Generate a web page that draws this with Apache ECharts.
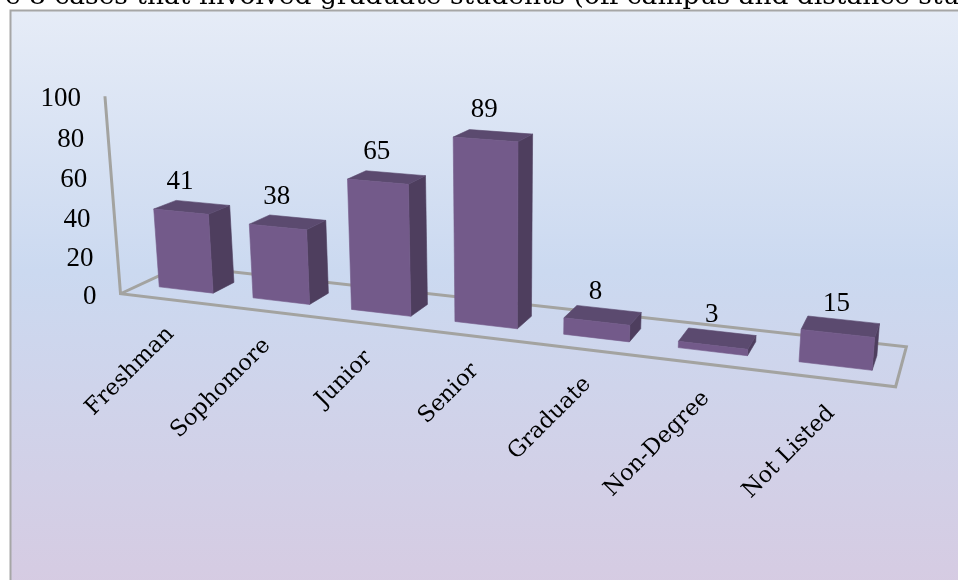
<!DOCTYPE html>
<html><head><meta charset="utf-8">
<style>html,body{margin:0;padding:0;background:#fff}#c{width:958px;height:580px}</style>
<script src="https://cdn.jsdelivr.net/npm/echarts@6/dist/echarts.min.js"></script>
</head><body><div id="c"></div>
<script>
const categories = ['Freshman','Sophomore','Junior','Senior','Graduate','Non-Degree','Not Listed'];
const values = [41,38,65,89,8,3,15];
const yTicks = [0,20,40,60,80,100];
const heading = 'e 8 cases that involved graduate students (off-campus and distance stu';

const FONT = '"DejaVu Serif"';
const NUMFONT = '"Liberation Serif"';
const TEXT = '#000';
const GRID = {left:100,top:100,width:700,height:200};

// perspective camera: model X (category), Y (depth), Z (value)
function project(X,Y,Z){
  const w = 1 - .0236*X + .0258*Y - .00039*Z;
  return [(186 + 88.5*X + 26.7*Y - .195*Z)/w, (290 + 4.03*X - 3.4*Y - 1.993*Z)/w];
}
const HALF = .29, Y0 = -.84, Y1 = 1.83;

const chart = echarts.init(document.getElementById('c'),null,{renderer:'canvas'});
function toModel(api,i,v){
  const p = api.coord([i,v]), o = api.coord([0,0]), q = api.coord([1,100]);
  return [(p[0]-o[0])/(q[0]-o[0]), (o[1]-p[1])/(o[1]-q[1])*100];
}
function poly(points,fill,stroke){
  return {type:'polygon',shape:{points},style:{fill,stroke:stroke||fill,lineWidth:.6}};
}
const LINE = '#A3A3A0';
function floorItem(params,api){
  const c=[project(-.5,Y0,0),project(6.5,Y0,0),project(6.5,Y1,0),project(-.5,Y1,0)];
  const top=project(-.5,Y0,toModel(api,0,100)[1]);
  return {type:'group',children:[
    {type:'polyline',shape:{points:[top,c[0],c[1],c[2],c[3],c[0]]},style:{fill:null,stroke:LINE,lineWidth:3,lineJoin:'miter'}}
  ]};
}
function barItem(params,api){
  const m=toModel(api,api.value(0),api.value(1)), X=m[0], Z=m[1];
  const P=(dx,Y,z)=>project(X+dx,Y,z);
  const a=HALF;
  const FBL=P(-a,0,0),FBR=P(a,0,0),FTL=P(-a,0,Z),FTR=P(a,0,Z),
        BBR=P(a,1,0),BTR=P(a,1,Z),BTL=P(-a,1,Z);
  const lab=P(0,0,Z);
  return {type:'group',children:[
    poly([FBR,BBR,BTR,FTR],'#4E3E5E'),
    poly([FTL,FTR,BTR,BTL],'#5B4A6F'),
    poly([FBL,FBR,FTR,FTL],'#735A8A'),
    {type:'text',style:{x:lab[0]-1,y:lab[1]-30,text:String(api.value(1)),font:'27px '+NUMFONT,fill:TEXT,align:'center',verticalAlign:'middle'}}
  ]};
}
function catLabelItem(params,api){
  const m=toModel(api,api.value(0),0);
  const p=project(m[0]-.06,Y0,0);
  return {type:'text',x:p[0]+9,y:p[1]+32,rotation:Math.PI/4,
    style:{x:0,y:0,text:categories[api.value(0)],font:'22.5px '+FONT,fill:TEXT,align:'right',verticalAlign:'middle'}};
}
function tickItem(params,api){
  const v=api.value(1), m=toModel(api,0,v);
  const p=project(-.5,Y0,m[1]);
  return {type:'text',style:{x:p[0]-24,y:p[1]+3,text:String(v),font:'27px '+NUMFONT,fill:TEXT,align:'right',verticalAlign:'middle'}};
}
chart.setOption({
  animation:false,
  backgroundColor:'#fff',
  graphic:[
    {type:'rect',z:-10,shape:{x:10.5,y:10.5,width:960,height:580},
     style:{stroke:'#A6A6A6',lineWidth:2,fill:{type:'linear',x:0,y:0,x2:0,y2:1,colorStops:[
       {offset:0,color:'#E6ECF7'},{offset:.45,color:'#CBD9F0'},{offset:1,color:'#D6CBE2'}]}}},
    {type:'text',z:-5,x:5,y:11,style:{x:0,y:0,text:heading,font:'26.5px '+FONT,fill:TEXT,align:'left',verticalAlign:'bottom'}}
  ],
  grid:GRID,
  xAxis:{type:'category',data:categories,show:false},
  yAxis:{type:'value',min:0,max:100,interval:20,show:false},
  series:[
    {type:'custom',coordinateSystem:'cartesian2d',silent:true,z:1,clip:false,renderItem:floorItem,data:[[0,0]]},
    {type:'custom',coordinateSystem:'cartesian2d',silent:true,z:2,clip:false,renderItem:barItem,data:values.map((v,i)=>[i,v])},
    {type:'custom',coordinateSystem:'cartesian2d',silent:true,z:3,clip:false,renderItem:catLabelItem,data:categories.map((c,i)=>[i,0])},
    {type:'custom',coordinateSystem:'cartesian2d',silent:true,z:3,clip:false,renderItem:tickItem,data:yTicks.map(v=>[0,v])}
  ]
});
</script></body></html>
